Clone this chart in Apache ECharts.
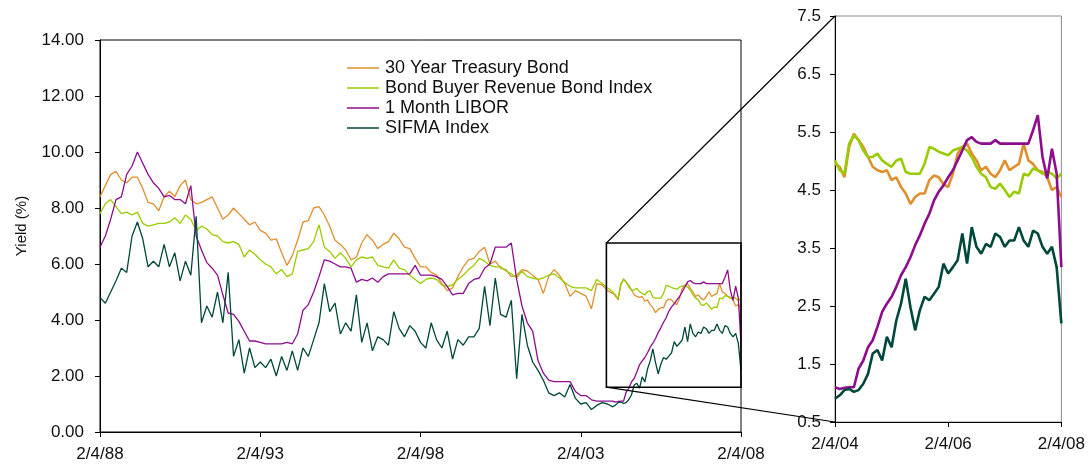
<!DOCTYPE html>
<html>
<head>
<meta charset="utf-8">
<script src="https://cdn.jsdelivr.net/npm/echarts@6/dist/echarts.min.js"></script>
<style>
html, body { margin: 0; padding: 0; background: #fff; }
#chart { width: 1088px; height: 466px; }
</style>
</head>
<body>
<div id="chart"></div>
<script>
// x = years since 2/4/88 ; early part sampled every 2 months, late part (the zoomed window) monthly
const earlyStep = 1 / 6;
const lateStart = 16;
const lateStep = 1 / 12;

const seriesNames = ['30 Year Treasury Bond', 'Bond Buyer Revenue Bond Index', '1 Month LIBOR', 'SIFMA Index'];
const mainTickLabels = ['2/4/88', '2/4/93', '2/4/98', '2/4/03', '2/4/08'];
const insetTickLabels = ['2/4/04', '2/4/06', '2/4/08'];

// 2/4/88 -> 12/4/03
const treasuryEarly = [8.4, 8.8, 9.2, 9.3, 9.0, 8.9, 9.1, 9.1, 8.7, 8.2, 8.15, 7.9, 8.4, 8.6, 8.4, 8.8, 9.0, 8.3, 8.15, 8.2, 8.3, 8.4, 8.0, 7.6, 7.75, 8.0, 7.8, 7.6, 7.4, 7.5, 7.2,
    7.1, 6.85, 6.9, 6.4, 5.95, 6.3, 6.85, 7.5, 7.55, 8.0, 8.05, 7.75, 7.35, 6.85, 6.7, 6.5, 6.15, 6.25, 6.75, 7.05, 6.85, 6.55, 6.7, 6.8, 7.1, 6.9, 6.6, 6.55, 6.2, 5.9,
    5.9, 5.7, 5.6, 5.3, 5.05, 5.15, 5.55, 5.9, 6.15, 6.2, 6.45, 6.6, 6.0, 6.1, 5.85, 5.8, 5.55, 5.6, 5.8, 5.75, 5.6, 5.45, 4.95, 5.55, 5.8, 5.6, 5.3, 4.85, 5.05, 4.95,
    4.85, 4.4, 5.3, 5.25, 5.05];
const rbiEarly = [7.8, 8.15, 8.3, 8.05, 7.8, 7.85, 7.75, 7.85, 7.45, 7.35, 7.4, 7.45, 7.45, 7.5, 7.65, 7.45, 7.75, 7.6, 7.2, 7.35, 7.25, 7.05, 7.0, 6.8, 6.75, 6.8, 6.7, 6.25, 6.5, 6.35, 6.15,
    6.0, 5.9, 5.65, 5.8, 5.55, 5.65, 6.45, 6.5, 6.55, 6.8, 7.4, 6.6, 6.45, 6.2, 6.4, 6.2, 5.9, 6.15, 6.25, 6.2, 6.25, 5.95, 5.9, 5.85, 6.15, 5.85, 5.8, 5.6, 5.45, 5.3,
    5.45, 5.5, 5.45, 5.25, 5.2, 5.25, 5.45, 5.6, 5.8, 5.95, 6.2, 6.1, 5.95, 5.9, 5.9, 5.75, 5.65, 5.5, 5.75, 5.55, 5.5, 5.45, 5.5, 5.6, 5.65, 5.5, 5.35, 5.2, 5.15, 5.15,
    5.15, 5.05, 5.45, 5.3, 5.15];
const liborEarly = [6.6, 7.0, 7.6, 8.3, 8.4, 9.2, 9.5, 10.0, 9.6, 9.2, 8.9, 8.7, 8.4, 8.45, 8.3, 8.3, 8.15, 8.8, 7.0, 6.5, 6.05, 5.85, 5.6, 4.9, 4.25, 4.2, 3.95, 3.6, 3.25, 3.25, 3.2,
    3.15, 3.15, 3.15, 3.15, 3.2, 3.15, 3.5, 4.35, 4.55, 5.0, 5.55, 6.15, 6.1, 6.0, 5.9, 5.9, 5.85, 5.35, 5.45, 5.4, 5.5, 5.35, 5.55, 5.65, 5.65, 5.65, 5.65, 5.65, 5.95, 5.6,
    5.6, 5.6, 5.55, 5.45, 5.2, 4.9, 4.95, 4.95, 5.3, 5.45, 5.5, 5.85, 6.0, 6.6, 6.6, 6.6, 6.75, 5.45, 4.5, 3.9, 3.6, 2.55, 2.1, 1.85, 1.8, 1.8, 1.8, 1.8, 1.45, 1.3,
    1.3, 1.15, 1.1, 1.1, 1.1];
const sifmaEarly = [4.8, 4.6, 5.0, 5.4, 5.85, 5.7, 7.0, 7.5, 6.9, 5.9, 6.1, 5.9, 6.7, 5.9, 6.4, 5.4, 6.1, 5.6, 7.7, 3.9, 4.5, 4.1, 5.0, 3.9, 5.7, 2.7, 3.3, 2.1, 3.0, 2.3, 2.5,
    2.3, 2.6, 2.0, 2.7, 2.2, 2.9, 2.2, 3.0, 2.7, 3.3, 3.9, 5.3, 4.3, 4.6, 3.5, 3.9, 3.6, 4.9, 3.2, 3.9, 2.9, 3.4, 3.3, 3.1, 4.3, 3.7, 3.4, 3.8, 3.6, 3.2,
    3.0, 3.9, 3.3, 3.0, 3.6, 2.6, 3.3, 3.1, 3.4, 3.4, 3.7, 5.2, 3.8, 5.5, 4.2, 4.1, 4.7, 1.9, 4.2, 3.1, 2.5, 2.2, 1.85, 1.4, 1.3, 1.4, 1.25, 1.7, 1.2, 1.0,
    1.05, 0.8, 0.95, 1.05, 1.0];

// 2/4/04 -> 2/4/08
const treasuryLate = [4.95, 4.9, 4.72, 5.24, 5.47, 5.36, 5.24, 5.07, 4.9, 4.84, 4.81, 4.84, 4.67, 4.72, 4.55, 4.44, 4.26, 4.38, 4.44, 4.44, 4.67, 4.75, 4.72, 4.6, 4.55,
    4.78, 5.13, 5.24, 5.3, 5.13, 5.01, 4.84, 4.9, 4.78, 4.72, 4.84, 5.01, 4.84, 4.9, 4.95, 5.3, 5.01, 4.95, 4.84, 4.81, 4.72, 4.5, 4.55, 4.38];
const rbiLate = [5.01, 4.84, 4.78, 5.3, 5.44, 5.36, 5.18, 5.07, 5.07, 5.13, 5.01, 4.95, 4.9, 5.01, 5.04, 4.81, 4.78, 4.78, 4.78, 4.95, 5.24, 5.21, 5.16, 5.13, 5.1,
    5.18, 5.21, 5.24, 5.18, 5.07, 4.9, 4.78, 4.72, 4.55, 4.52, 4.61, 4.5, 4.38, 4.47, 4.44, 4.78, 4.75, 4.87, 4.84, 4.78, 4.81, 4.78, 4.7, 4.78];
const liborLate = [1.1, 1.07, 1.09, 1.1, 1.1, 1.42, 1.56, 1.79, 1.91, 2.14, 2.4, 2.54, 2.66, 2.83, 3.03, 3.17, 3.34, 3.55, 3.72, 3.92, 4.09, 4.32, 4.47, 4.58, 4.72,
    4.84, 5.01, 5.18, 5.36, 5.41, 5.33, 5.3, 5.3, 5.3, 5.36, 5.3, 5.3, 5.3, 5.3, 5.3, 5.3, 5.3, 5.53, 5.79, 5.07, 4.7, 5.21, 4.78, 3.17];
const sifmaLate = [0.9, 0.96, 1.05, 1.07, 1.02, 1.05, 1.16, 1.33, 1.68, 1.74, 1.56, 1.97, 1.79, 2.25, 2.54, 2.97, 2.48, 2.08, 2.43, 2.66, 2.6, 2.71, 2.83, 3.23, 3.06,
    3.17, 3.29, 3.75, 3.23, 3.86, 3.52, 3.4, 3.57, 3.52, 3.75, 3.69, 3.52, 3.63, 3.63, 3.86, 3.63, 3.52, 3.8, 3.75, 3.52, 3.4, 3.52, 3.17, 2.2];

// zoom window drawn on the main chart (data units)
const zoomX = [15.8, 20];
const zoomY = [1.6, 6.75];

const colors = ['#E08F2E', '#99CC00', '#8E0C8E', '#00483B'];
const font = "'Liberation Sans', Arial, sans-serif";

const earlyT = treasuryEarly.map((_, i) => i * earlyStep);
const lateT = treasuryLate.map((_, i) => lateStart + i * lateStep);
const latePairs = late => late.map((v, i) => [lateT[i], v]);
const allPairs = (early, late) => early.map((v, i) => [earlyT[i], v]).concat(latePairs(late));

const early = [treasuryEarly, rbiEarly, liborEarly, sifmaEarly];
const late = [treasuryLate, rbiLate, liborLate, sifmaLate];

const chart = echarts.init(document.getElementById('chart'));

const axisCommon = {
    axisLine: { lineStyle: { color: '#000', width: 1 } },
    axisTick: { show: true, inside: false, length: 5, lineStyle: { color: '#000' } },
    splitLine: { show: false },
    axisLabel: { color: '#111', fontSize: 17, fontFamily: font }
};

const series = [];
seriesNames.forEach((name, k) => {
    series.push({
        name: name,
        type: 'line',
        xAxisIndex: 0,
        yAxisIndex: 0,
        data: allPairs(early[k], late[k]),
        showSymbol: false,
        symbol: 'none',
        color: colors[k],
        lineStyle: { width: 1.3, color: colors[k] }
    });
    series.push({
        name: name,
        type: 'line',
        xAxisIndex: 1,
        yAxisIndex: 1,
        data: latePairs(late[k]),
        showSymbol: false,
        symbol: 'none',
        color: colors[k],
        lineStyle: { width: 2.6, color: colors[k] }
    });
});

chart.setOption({
    animation: false,
    backgroundColor: '#fff',
    legend: {
        data: seriesNames,
        orient: 'vertical',
        left: 347,
        top: 59,
        padding: 0,
        icon: 'rect',
        itemWidth: 32,
        itemHeight: 1.5,
        itemGap: 2,
        textStyle: { fontSize: 18, lineHeight: 18, fontFamily: font, color: '#111', padding: [0, 0, 0, 1] }
    },
    grid: [
        { left: 100, top: 40, width: 641, height: 392, show: true, borderColor: '#000', borderWidth: 1, backgroundColor: 'transparent' },
        { left: 835, top: 16, width: 228, height: 406, show: true, borderColor: '#8c8c8c', borderWidth: 1, backgroundColor: 'transparent' }
    ],
    xAxis: [
        Object.assign({}, axisCommon, {
            type: 'value', gridIndex: 0, min: 0, max: 20, interval: 5,
            axisLabel: Object.assign({}, axisCommon.axisLabel, {
                margin: 14,
                formatter: v => mainTickLabels[Math.round(v / 5)]
            })
        }),
        Object.assign({}, axisCommon, {
            type: 'value', gridIndex: 1, min: 16, max: 20, interval: 2,
            axisLabel: Object.assign({}, axisCommon.axisLabel, {
                margin: 14,
                formatter: v => insetTickLabels[Math.round((v - 16) / 2)]
            })
        })
    ],
    yAxis: [
        Object.assign({}, axisCommon, {
            type: 'value', gridIndex: 0, min: 0, max: 14, interval: 2,
            axisLabel: Object.assign({}, axisCommon.axisLabel, {
                margin: 16,
                formatter: v => v.toFixed(2)
            })
        }),
        Object.assign({}, axisCommon, {
            type: 'value', gridIndex: 1, min: 0.5, max: 7.5, interval: 1,
            axisLabel: Object.assign({}, axisCommon.axisLabel, {
                margin: 14,
                formatter: v => v.toFixed(1)
            })
        })
    ],
    series: series
});

// zoom box, the two lines leading to the inset, and the y axis title
const toPx = (g, pt) => chart.convertToPixel({ gridIndex: g }, pt);
const boxTL = toPx(0, [zoomX[0], zoomY[1]]);
const boxBR = toPx(0, [zoomX[1], zoomY[0]]);
const insetTop = toPx(1, [16, 7.5]);
const insetBottom = toPx(1, [16, 0.5]);

chart.setOption({
    graphic: [
        {
            type: 'rect', z: 100,
            shape: { x: boxTL[0], y: boxTL[1], width: boxBR[0] - boxTL[0], height: boxBR[1] - boxTL[1] },
            style: { fill: 'none', stroke: '#000', lineWidth: 1.6 }
        },
        {
            type: 'line', z: 100,
            shape: { x1: boxTL[0], y1: boxTL[1], x2: insetTop[0], y2: insetTop[1] },
            style: { stroke: '#000', lineWidth: 1.2 }
        },
        {
            type: 'line', z: 100,
            shape: { x1: boxTL[0], y1: boxBR[1], x2: insetBottom[0], y2: insetBottom[1] },
            style: { stroke: '#000', lineWidth: 1.2 }
        },
        {
            type: 'text', x: 22, y: 226, rotation: Math.PI / 2,
            style: { text: 'Yield (%)', fill: '#111', font: "15px 'Liberation Sans', Arial, sans-serif", align: 'center', verticalAlign: 'middle' }
        }
    ]
});
</script>
</body>
</html>
